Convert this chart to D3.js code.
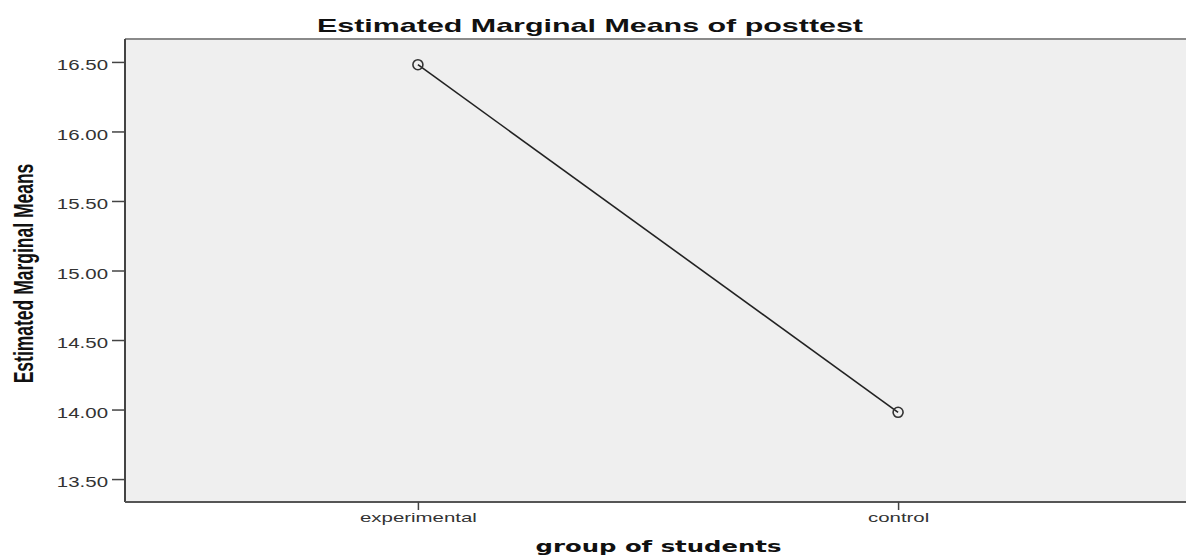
<!DOCTYPE html>
<html>
<head>
<meta charset="utf-8">
<script src="https://cdn.jsdelivr.net/npm/d3@7"></script>
<style>
  body { margin: 0; background: #fff; }
  svg { display: block; }
</style>
</head>
<body>
<div id="chart"></div>
<script>
// data
const groups = ['experimental', 'control'];
const means = [16.48, 13.98];
const yTicks = [13.5, 14.0, 14.5, 15.0, 15.5, 16.0, 16.5];

const width = 1186, height = 556;
const margin = { top: 39, right: 0, bottom: 54, left: 125 };
const W = width - margin.left - margin.right;
const H = height - margin.top - margin.bottom;

// the original picture is stretched sideways, so text is widened to match
function widen(sel, k) {
  sel.each(function () {
    const len = this.getComputedTextLength();
    d3.select(this).attr('textLength', len * k).attr('lengthAdjust', 'spacingAndGlyphs');
  });
}

const svg = d3.select('#chart').append('svg')
  .attr('width', width).attr('height', height);

const x = d3.scalePoint().domain(groups).range([0, W + 5]).padding(0.61);
const y = d3.scaleLinear().domain([13.335, 16.665]).range([H, 0]);

const g = svg.append('g').attr('transform', `translate(${margin.left},${margin.top})`);

// plot background
g.append('rect').attr('width', W).attr('height', H).attr('fill', '#efefef');

// top border
g.append('line').attr('x1', 0).attr('x2', W).attr('y1', 0).attr('y2', 0)
  .attr('stroke', '#8a8a8a').attr('stroke-width', 2);

// y axis
const yAxis = g.append('g')
  .call(d3.axisLeft(y).tickValues(yTicks).tickFormat(d3.format('.2f')).tickSize(13).tickPadding(4));
yAxis.select('.domain').attr('stroke', '#444').attr('stroke-width', 2).attr('d', `M0,0V${H}`);
yAxis.selectAll('.tick line').attr('stroke', '#444').attr('stroke-width', 1.5);
yAxis.selectAll('text').attr('font-family', 'Liberation Sans, Arial, sans-serif')
  .attr('font-size', '14px').attr('fill', '#333').attr('dy', '0.55em')
  .call(widen, 1.46);

// x axis
const xAxis = g.append('g').attr('transform', `translate(0,${H})`)
  .call(d3.axisBottom(x).tickSize(8).tickPadding(3));
xAxis.select('.domain').attr('stroke', '#555').attr('stroke-width', 2).attr('d', `M0,0H${W}`);
xAxis.selectAll('.tick line').attr('stroke', '#444').attr('stroke-width', 1.5);
xAxis.selectAll('text').attr('font-family', 'Liberation Sans, Arial, sans-serif')
  .attr('font-size', '13px').attr('fill', '#333')
  .call(widen, 1.57);

// line and markers
const pts = groups.map((grp, i) => ({ grp, v: means[i] }));
g.append('path').datum(pts)
  .attr('fill', 'none').attr('stroke', '#222').attr('stroke-width', 1.6)
  .attr('d', d3.line().x(d => x(d.grp)).y(d => y(d.v)));

g.selectAll('circle.pt').data(pts).join('circle')
  .attr('class', 'pt')
  .attr('cx', d => x(d.grp)).attr('cy', d => y(d.v)).attr('r', 5)
  .attr('fill', 'none').attr('stroke', '#333').attr('stroke-width', 1.6);

// title
svg.append('text').attr('x', 317).attr('y', 32)
  .attr('font-family', 'Liberation Sans, Arial, sans-serif')
  .attr('font-size', '19px').attr('font-weight', '700').attr('fill', '#111')
  .text('Estimated Marginal Means of posttest')
  .attr('textLength', 546).attr('lengthAdjust', 'spacingAndGlyphs');

// x axis title
svg.append('text').attr('x', margin.left + W / 2 + 3).attr('y', 552)
  .attr('text-anchor', 'middle')
  .attr('font-family', 'DejaVu Sans, Verdana, sans-serif')
  .attr('font-size', '16px').attr('font-weight', '700').attr('fill', '#111')
  .text('group of students')
  .call(widen, 1.52);

// y axis title (only its letter height is stretched, being upright)
svg.append('text')
  .attr('transform', `translate(33,${margin.top + H / 2 + 3}) scale(1.6,1) rotate(-90)`)
  .attr('text-anchor', 'middle')
  .attr('font-family', 'Liberation Sans, Arial, sans-serif')
  .attr('font-size', '17.5px').attr('font-weight', '700').attr('fill', '#111')
  .text('Estimated Marginal Means');
</script>
</body>
</html>
